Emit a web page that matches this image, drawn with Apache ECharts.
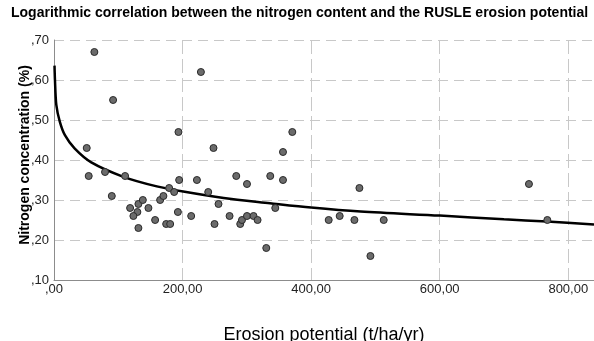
<!DOCTYPE html>
<html>
<head>
<meta charset="utf-8">
<script src="https://cdn.jsdelivr.net/npm/echarts@6/dist/echarts.min.js"></script>
<style>html,body{margin:0;padding:0;background:#fff;}#c{width:594px;height:341px;}</style>
</head>
<body>
<div id="c"></div>
<script>
var titleText = 'Logarithmic correlation between the nitrogen content and the RUSLE erosion potential';
var xName = 'Erosion potential (t/ha/yr)';
var yName = 'Nitrogen concentration (%)';

var erosion = [62.8, 228.5, 91.9, 193.6, 370.7, 50.9, 248.1, 356.2, 54.0, 79.4, 110.6, 89.9, 118.4, 131.3, 138.2, 129.7, 123.5, 146.9, 131.3, 157.3, 165.1, 170.2, 179.1, 186.9, 194.7, 192.7, 174.5, 180.7, 213.4, 222.3, 239.9, 255.9, 249.7, 273.1, 283.5, 300.2, 289.7, 292.4, 300.2, 336.4, 356.2, 344.2, 310.4, 316.7, 330.2, 427.3, 444.4, 467.3, 512.9, 475.1, 492.2, 738.8, 767.4];
var nitrogen = [0.67, 0.62, 0.55, 0.47, 0.47, 0.43, 0.43, 0.42, 0.36, 0.37, 0.36, 0.31, 0.28, 0.29, 0.30, 0.27, 0.26, 0.28, 0.23, 0.25, 0.30, 0.31, 0.33, 0.32, 0.35, 0.27, 0.24, 0.24, 0.26, 0.35, 0.32, 0.29, 0.24, 0.26, 0.36, 0.34, 0.24, 0.25, 0.26, 0.36, 0.35, 0.28, 0.26, 0.25, 0.18, 0.25, 0.26, 0.25, 0.25, 0.33, 0.16, 0.34, 0.25];

var curveErosion = [0.8, 1.5, 3.6, 9, 17, 32, 58, 108, 160, 201, 264, 336, 400, 477, 600, 700, 767, 840];
var curveNitrogen = [0.636, 0.600, 0.538, 0.496, 0.462, 0.429, 0.394, 0.358, 0.334, 0.321, 0.305, 0.292, 0.281, 0.271, 0.261, 0.252, 0.246, 0.239];

var xTicks = [0, 200, 400, 600, 800];
var yTicks = [0.1, 0.2, 0.3, 0.4, 0.5, 0.6, 0.7];

var pts = erosion.map(function (x, i) { return [x, nitrogen[i]]; });
var curve = curveErosion.map(function (x, i) { return [x, curveNitrogen[i]]; });

function fmtX(v) {
  var hit = xTicks.some(function (t) { return Math.abs(t - v) < 1e-6; });
  if (!hit) return '';
  var s = v.toFixed(2).replace('.', ',');
  return s.indexOf('0,') === 0 ? s.slice(1) : s;
}
function fmtY(v) {
  var hit = yTicks.some(function (t) { return Math.abs(t - v) < 1e-6; });
  if (!hit) return '';
  return ',' + v.toFixed(2).split('.')[1];
}

var chart = echarts.init(document.getElementById('c'), null, {renderer: 'canvas'});
chart.setOption({
  backgroundColor: '#ffffff',
  animation: false,
  textStyle: {fontFamily: 'Liberation Sans, Arial, sans-serif'},
  title: {
    text: titleText,
    left: 11, top: 6, padding: 0,
    textStyle: {fontSize: 14, fontWeight: 'bold', color: '#000', fontFamily: 'Liberation Sans, Arial, sans-serif'}
  },
  grid: {left: 54, right: 0, top: 40, bottom: 61, containLabel: false, outerBoundsMode: 'none'},
  xAxis: {
    type: 'value', min: 0, max: 840, interval: 200,
    name: xName, nameLocation: 'middle', nameGap: 46, nameMoveOverlap: false,
    nameTextStyle: {fontSize: 18, color: '#000'},
    axisLine: {show: true, onZero: false, lineStyle: {color: '#8c8c8c', width: 1}},
    axisTick: {show: false},
    axisLabel: {formatter: fmtX, fontSize: 13, color: '#222', margin: 3},
    splitLine: {show: true, lineStyle: {color: '#c8c8c8', type: [14, 5], width: 1}}
  },
  yAxis: {
    type: 'value', min: 0.1, max: 0.7, interval: 0.1,
    name: yName, nameLocation: 'middle', nameGap: 22, nameRotate: 90, nameMoveOverlap: false,
    nameTextStyle: {fontSize: 14, fontWeight: 'bold', color: '#000', padding: [0, 0, 0, 10]},
    axisLine: {show: true, onZero: false, lineStyle: {color: '#8c8c8c', width: 1}},
    axisTick: {show: false},
    axisLabel: {formatter: fmtY, fontSize: 13, color: '#222', margin: 5},
    splitLine: {show: true, lineStyle: {color: '#c8c8c8', type: [10, 6], width: 1}}
  },
  series: [
    {
      type: 'line', data: curve, showSymbol: false, smooth: 0.3,
      lineStyle: {color: '#000', width: 2.5}, z: 2, silent: true
    },
    {
      type: 'scatter', data: pts, symbol: 'circle', symbolSize: 7,
      itemStyle: {color: '#6b6b6b', borderColor: '#2a2a2a', borderWidth: 1, opacity: 1}, z: 3
    }
  ]
});
</script>
</body>
</html>
